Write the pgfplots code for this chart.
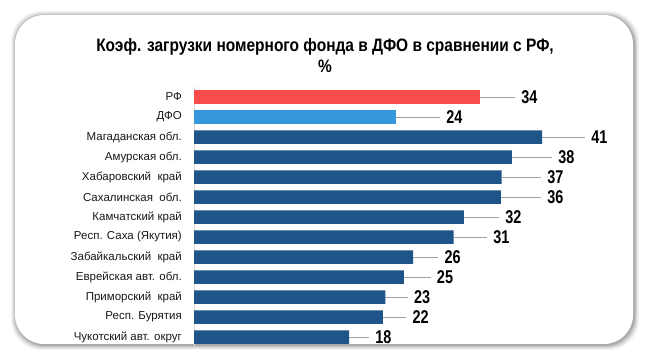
\documentclass[border=0pt]{standalone}
\usepackage{pgfplots}
\pgfplotsset{compat=1.18}
\usepackage{pgfplotstable}
\usepackage{fontspec}
\setmainfont{Liberation Sans}
\newfontfamily\narrowfont{Liberation Sans}[FakeStretch=0.86]
\newfontfamily\numfont{Liberation Sans}[FakeStretch=0.78]
\definecolor{rfred}{RGB}{248,76,76}
\definecolor{dfoblue}{RGB}{52,152,219}
\definecolor{darkblue}{RGB}{31,84,136}
\definecolor{leader}{RGB}{160,160,160}
\definecolor{axline}{RGB}{225,215,205}

\pgfplotstableread{
i v lx lab
0 33.9 38.8 34
1 24.0 29.9 24
2 41.3 47.1 41
3 37.7 43.2 38
4 36.5 41.9 37
5 36.4 41.9 36
6 32.0 36.9 32
7 30.8 35.5 31
8 26.0 29.7 26
9 24.9 28.8 25
10 22.7 26.1 23
11 22.4 25.9 22
12 18.4 21.5 18
}\alldata

\pgfplotstableread{
i v
0 33.9
}\rfdata

\pgfplotstableread{
i v
1 24.0
}\dfodata

\pgfplotstableread{
i v
2 41.3
3 37.7
4 36.5
5 36.4
6 32.0
7 30.8
8 26.0
9 24.9
10 22.7
11 22.4
12 18.4
}\regdata

\begin{document}
\begin{tikzpicture}
\useasboundingbox (0,0) rectangle (648bp,360bp);
\fill[white] (0,0) rectangle (648bp,360bp);
% shadow
\foreach \d/\o in {5/0.04,4/0.05,3/0.07,2/0.09,1/0.12}{
  \fill[black, opacity=\o, rounded corners=30bp] (15bp-\d bp+1bp,16bp-\d bp-1bp) rectangle (633bp+\d bp+1bp,345bp+\d bp-1bp);
}
\fill[white, rounded corners=29bp] (15bp,16bp) rectangle (633bp,345bp);
% title
\node[anchor=base, font={\narrowfont\bfseries\fontsize{18bp}{18bp}\selectfont}] at (325bp,308bp) {Коэф. загрузки номерного фонда в ДФО в сравнении с РФ,};
\node[anchor=base, font={\narrowfont\bfseries\fontsize{18bp}{18bp}\selectfont}] at (325bp,287bp) {\%};
\begin{axis}[
  at={(194bp,13bp)}, anchor=south west,
  scale only axis, width=421.5bp, height=260bp,
  xmin=0, xmax=50, ymin=-0.5, ymax=12.5, y dir=reverse,
  clip=false,
  hide x axis,
  axis y line=left,
  y axis line style={-, draw=axline, line width=0.8bp},
  ytick={0,...,12},
  yticklabels={РФ, ДФО, Магаданская обл., Амурская обл., Хабаровский\ \ край, Сахалинская\ \ обл., Камчатский край, Респ. Саха (Якутия), Забайкальский\ \ край, Еврейская авт. обл., Приморский\ \ край, Респ. Бурятия, Чукотский авт. округ},
  major tick length=0pt,
  yticklabel style={font=\fontsize{11.5bp}{12bp}\selectfont, inner sep=0pt, xshift=-12bp, text=black!90},
]
\addplot[xbar, bar shift=0pt, bar width=13.5bp, fill=rfred, draw=none] table[x=v, y=i] {\rfdata};
\addplot[xbar, bar shift=0pt, bar width=13.5bp, fill=dfoblue, draw=none] table[x=v, y=i] {\dfodata};
\addplot[xbar, bar shift=0pt, bar width=13.5bp, fill=darkblue, draw=none] table[x=v, y=i] {\regdata};
\addplot[draw=none, mark=none, forget plot,
  error bars/.cd, x dir=plus, x explicit,
  error bar style={draw=leader, line width=0.8bp}, error mark=none]
  table[x=v, y=i, x error expr=\thisrow{lx}-\thisrow{v}-0.7] {\alldata};
\addplot[only marks, mark=*, mark size=0pt, draw=none, fill=none, forget plot,
  point meta=explicit symbolic,
  nodes near coords,
  nodes near coords style={anchor=west, inner sep=0pt, text=black, font={\numfont\bfseries\fontsize{18.5bp}{18bp}\selectfont}}]
  table[x=lx, y=i, meta=lab] {\alldata};
\end{axis}
\end{tikzpicture}
\end{document}
